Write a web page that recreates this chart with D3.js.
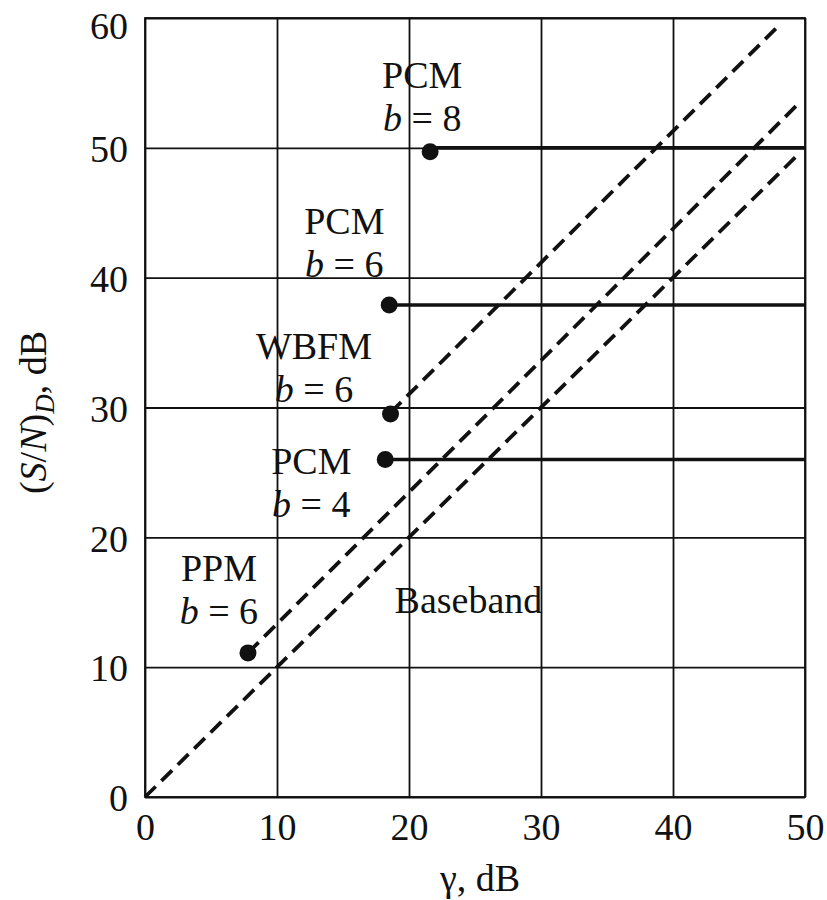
<!DOCTYPE html>
<html>
<head>
<meta charset="utf-8">
<script src="https://cdn.jsdelivr.net/npm/d3@7"></script>
<style>
  body { margin: 0; background: #fff; }
  svg { display: block; }
  text { font-family: "Liberation Serif", "Times New Roman", serif; fill: #111; }
</style>
</head>
<body>
<div id="chart"></div>
<script>
// ---- data ----
const xTicks = [0, 10, 20, 30, 40, 50];
const yTicks = [0, 10, 20, 30, 40, 50, 60];

// dashed threshold lines [gamma, SNR]
const basebandLine = [[0, 0], [49.5, 49.5]];
const ppmLine = [[7.8, 11.1], [49.5, 53.4]];
const wbfmLine = [[18.6, 29.6], [48.2, 59.6]];

// PCM horizontal curves: start gamma, end gamma, SNR level
const pcmStart = [21.6, 18.5, 18.2];
const pcmEnd = [50, 50, 50];
const pcmLevel = [50, 37.9, 26];

// threshold dots
const dotX = [21.6, 18.5, 18.6, 18.2, 7.8];
const dotY = [49.7, 37.9, 29.5, 26, 11.1];

// annotations: name, b value, anchor (centre x, baseline y of first line) in data units
const labelNames = ["PCM", "PCM", "WBFM", "PCM", "PPM", "Baseband"];
const labelB = ["8", "6", "6", "4", "6", null];
const labelX = [21.0, 15.1, 12.8, 12.6, 5.6, 24.5];
const labelY = [54.6, 43.4, 33.7, 24.9, 16.6, 14.2];

// ---- layout ----
const W = 827, H = 900;
const m = { left: 145, right: 22, top: 18, bottom: 103 };
const x = d3.scaleLinear().domain([0, 50]).range([m.left, W - m.right]);
const y = d3.scaleLinear().domain([0, 60]).range([H - m.bottom, m.top]);

const svg = d3.select("#chart").append("svg").attr("width", W).attr("height", H);

const FS = 38;

// grid + axes
const gx = svg.append("g")
  .attr("transform", `translate(0,${y(0)})`)
  .call(d3.axisBottom(x).tickValues(xTicks).tickFormat(d3.format("d"))
    .tickSize(-(y(0) - y(60))).tickPadding(16));
const gy = svg.append("g")
  .attr("transform", `translate(${x(0)},0)`)
  .call(d3.axisLeft(y).tickValues(yTicks).tickFormat(d3.format("d"))
    .tickSize(-(x(50) - x(0))).tickPadding(17));
[gx, gy].forEach(g => {
  g.select(".domain").remove();
  g.selectAll(".tick line").attr("stroke", "#111").attr("stroke-width", 1.8);
  g.selectAll(".tick text").style("font-size", FS + "px").attr("fill", "#111");
});
gy.selectAll(".tick text").attr("dy", d => d === 60 ? "0.55em" : "0.36em");

// frame
svg.append("rect")
  .attr("x", x(0)).attr("y", y(60))
  .attr("width", x(50) - x(0)).attr("height", y(0) - y(60))
  .attr("fill", "none").attr("stroke", "#111").attr("stroke-width", 1.8);

// dashed lines
const line = d3.line().x(d => x(d[0])).y(d => y(d[1]));
[basebandLine, ppmLine, wbfmLine].forEach(l => {
  svg.append("path").attr("d", line(l))
    .attr("fill", "none").attr("stroke", "#111")
    .attr("stroke-width", 3.8).attr("stroke-dasharray", "15,8");
});

// PCM horizontal lines
pcmLevel.forEach((lv, i) => {
  svg.append("line")
    .attr("x1", x(pcmStart[i])).attr("x2", x(pcmEnd[i]))
    .attr("y1", y(lv)).attr("y2", y(lv))
    .attr("stroke", "#111").attr("stroke-width", 3.6);
});

// dots
svg.selectAll("circle.dot").data(dotX).enter().append("circle")
  .attr("class", "dot")
  .attr("cx", d => x(d)).attr("cy", (d, i) => y(dotY[i]))
  .attr("r", 8.5).attr("fill", "#111");

// annotations
labelNames.forEach((name, i) => {
  const cx = x(labelX[i]), by = y(labelY[i]);
  svg.append("text").attr("x", cx).attr("y", by)
    .attr("text-anchor", "middle").style("font-size", FS + "px").text(name);
  if (labelB[i] !== null) {
    const t = svg.append("text").attr("x", cx).attr("y", by + 43)
      .attr("text-anchor", "middle").style("font-size", FS + "px");
    t.append("tspan").style("font-style", "italic").text("b");
    t.append("tspan").text(" = " + labelB[i]);
  }
});

// axis titles
svg.append("text").attr("x", (x(0) + x(50)) / 2 + 5).attr("y", 891)
  .attr("text-anchor", "middle").style("font-size", FS + "px").text("γ, dB");

const yl = svg.append("text")
  .attr("transform", `translate(46,${(y(0) + y(60)) / 2 + 5}) rotate(-90)`)
  .attr("text-anchor", "middle").style("font-size", FS + "px");
yl.append("tspan").text("(");
yl.append("tspan").style("font-style", "italic").text("S");
yl.append("tspan").text("/");
yl.append("tspan").style("font-style", "italic").text("N");
yl.append("tspan").text(")");
yl.append("tspan").style("font-style", "italic").style("font-size", "27px").attr("dy", 8).text("D");
yl.append("tspan").attr("dy", -8).text(", dB");
</script>
</body>
</html>
